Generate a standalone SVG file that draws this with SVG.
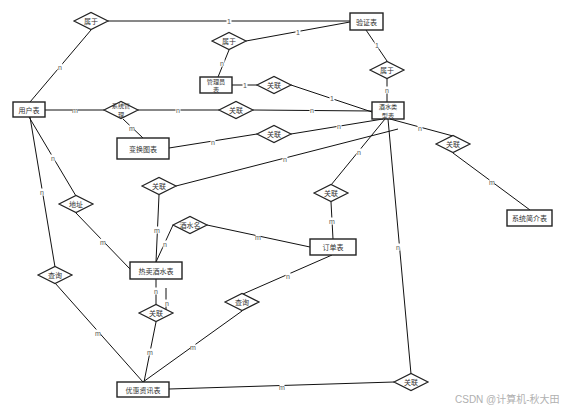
<svg xmlns="http://www.w3.org/2000/svg" width="567" height="411" viewBox="0 0 567 411">
<style>
.ent{fill:#fff;stroke:#222;stroke-width:1.4}
.rel{fill:#fff;stroke:#222;stroke-width:1.2}
.t{font-family:"Noto Sans CJK SC","Noto Sans",sans-serif;font-size:7px;fill:#333;text-anchor:middle;dominant-baseline:central}
.t2{font-size:6.2px}
.ln{stroke:#111;stroke-width:1;fill:none}
.bg{fill:#fff}
.lb{font-family:"Liberation Sans","Noto Sans",sans-serif;font-size:7px;fill:#555;text-anchor:middle;dominant-baseline:central}
.wm{font-family:"Liberation Sans","Noto Sans CJK SC",sans-serif;font-size:10px;fill:#b0b0b0}
</style>
<defs><rect id="b" class="bg" x="-2.5" y="-3.5" width="5" height="7"/></defs>
<rect width="567" height="411" fill="#fff"/>
<g id="connectors">
<line class="ln" x1="30" y1="102" x2="91" y2="30"/>
<line class="ln" x1="108" y1="21" x2="350" y2="21"/>
<line class="ln" x1="350" y1="22" x2="246" y2="41"/>
<line class="ln" x1="229" y1="50" x2="218" y2="77"/>
<line class="ln" x1="366" y1="30" x2="387" y2="61"/>
<line class="ln" x1="387" y1="79" x2="387" y2="102"/>
<line class="ln" x1="232" y1="85" x2="257" y2="85"/>
<line class="ln" x1="291" y1="85" x2="372" y2="112"/>
<line class="ln" x1="45" y1="110" x2="104" y2="110"/>
<line class="ln" x1="138" y1="110" x2="219" y2="110"/>
<line class="ln" x1="253" y1="110" x2="372" y2="111"/>
<line class="ln" x1="123" y1="119" x2="143" y2="138"/>
<line class="ln" x1="169" y1="148" x2="257" y2="134"/>
<line class="ln" x1="291" y1="134" x2="383" y2="119"/>
<line class="ln" x1="176" y1="186" x2="398" y2="129"/>
<line class="ln" x1="385" y1="119" x2="331" y2="185"/>
<line class="ln" x1="388" y1="119" x2="411" y2="374"/>
<line class="ln" x1="390" y1="119" x2="453" y2="136"/>
<line class="ln" x1="453" y1="153" x2="530" y2="210"/>
<line class="ln" x1="331" y1="202" x2="333" y2="239"/>
<line class="ln" x1="207" y1="225" x2="310" y2="247"/>
<line class="ln" x1="332" y1="255" x2="243" y2="294"/>
<line class="ln" x1="242" y1="311" x2="143" y2="382"/>
<line class="ln" x1="156" y1="322" x2="144" y2="382"/>
<line class="ln" x1="156" y1="279" x2="156" y2="305"/>
<line class="ln" x1="166" y1="288" x2="166" y2="312"/>
<line class="ln" x1="159" y1="195" x2="156" y2="262"/>
<line class="ln" x1="173" y1="225" x2="156" y2="262"/>
<line class="ln" x1="29" y1="117" x2="76" y2="196"/>
<line class="ln" x1="76" y1="213" x2="130" y2="269"/>
<line class="ln" x1="30" y1="117" x2="55" y2="267"/>
<line class="ln" x1="55" y1="283" x2="143" y2="382"/>
<line class="ln" x1="169" y1="389" x2="394" y2="382"/>
<use href="#b" x="60" y="67"/><use href="#b" x="229" y="21"/><use href="#b" x="298" y="32"/><use href="#b" x="222" y="63"/>
<use href="#b" x="377" y="45"/><use href="#b" x="387" y="90"/><use href="#b" x="245" y="85"/><use href="#b" x="332" y="98"/>
<use href="#b" x="75" y="110"/><use href="#b" x="178" y="110"/><use href="#b" x="312" y="110"/><use href="#b" x="132" y="128"/>
<use href="#b" x="213" y="142"/><use href="#b" x="339" y="126"/><use href="#b" x="285" y="159"/><use href="#b" x="359" y="152"/>
<use href="#b" x="398" y="247"/><use href="#b" x="420" y="128"/><use href="#b" x="492" y="182"/><use href="#b" x="332" y="221"/>
<use href="#b" x="258" y="237"/><use href="#b" x="288" y="276"/><use href="#b" x="193" y="347"/><use href="#b" x="150" y="352"/>
<use href="#b" x="156" y="291"/><use href="#b" x="167" y="303"/><use href="#b" x="157" y="230"/><use href="#b" x="165" y="244"/>
<use href="#b" x="53" y="158"/><use href="#b" x="103" y="242"/><use href="#b" x="42" y="192"/><use href="#b" x="98" y="333"/>
<use href="#b" x="282" y="387"/>
<text class="lb" x="60" y="67">n</text>
<text class="lb" x="229" y="21">1</text>
<text class="lb" x="298" y="32">1</text>
<text class="lb" x="222" y="63">n</text>
<text class="lb" x="377" y="45">1</text>
<text class="lb" x="387" y="90">n</text>
<text class="lb" x="245" y="85">1</text>
<text class="lb" x="332" y="98">1</text>
<text class="lb" x="75" y="110">m</text>
<text class="lb" x="178" y="110">n</text>
<text class="lb" x="312" y="110">n</text>
<text class="lb" x="132" y="128">m</text>
<text class="lb" x="213" y="142">n</text>
<text class="lb" x="339" y="126">n</text>
<text class="lb" x="285" y="159">n</text>
<text class="lb" x="359" y="152">n</text>
<text class="lb" x="398" y="247">n</text>
<text class="lb" x="420" y="128">n</text>
<text class="lb" x="492" y="182">m</text>
<text class="lb" x="332" y="221">m</text>
<text class="lb" x="258" y="237">m</text>
<text class="lb" x="288" y="276">n</text>
<text class="lb" x="193" y="347">m</text>
<text class="lb" x="150" y="352">m</text>
<text class="lb" x="156" y="291">n</text>
<text class="lb" x="167" y="303">n</text>
<text class="lb" x="157" y="230">m</text>
<text class="lb" x="165" y="244">n</text>
<text class="lb" x="53" y="158">n</text>
<text class="lb" x="103" y="242">m</text>
<text class="lb" x="42" y="192">n</text>
<text class="lb" x="98" y="333">m</text>
<text class="lb" x="282" y="387">m</text>
</g>
<g id="e_verify"><rect class="ent" x="350" y="13" width="33" height="17"/><text class="t" x="366.5" y="21.5">验证表</text></g>
<g id="e_admin"><rect class="ent" x="200" y="77" width="32" height="16"/><text class="t t2" x="216" y="81">管理员</text><text class="t t2" x="216" y="89.5">表</text></g>
<g id="e_drinktype"><rect class="ent" x="372" y="102" width="32" height="17"/><text class="t t2" x="388" y="106.5">酒水类</text><text class="t t2" x="388" y="115">型表</text></g>
<g id="e_user"><rect class="ent" x="13" y="102" width="32" height="15"/><text class="t" x="29" y="109.5">用户表</text></g>
<g id="e_chart"><rect class="ent" x="117" y="138" width="52" height="21"/><text class="t" x="143" y="148.5">变换图表</text></g>
<g id="e_intro"><rect class="ent" x="507" y="210" width="45" height="16"/><text class="t" x="529.5" y="218">系统简介表</text></g>
<g id="e_order"><rect class="ent" x="310" y="239" width="46" height="16"/><text class="t" x="333" y="247">订单表</text></g>
<g id="e_hot"><rect class="ent" x="130" y="262" width="52" height="17"/><text class="t" x="156" y="270.5">热卖酒水表</text></g>
<g id="e_promo"><rect class="ent" x="117" y="382" width="52" height="15"/><text class="t" x="143" y="389.5">优惠资讯表</text></g>
<g id="r_belong1"><polygon class="rel" points="74,21 91,12.5 108,21 91,29.5"/><text class="t" x="91" y="21">属于</text></g>
<g id="r_belong2"><polygon class="rel" points="212,41 229,32.5 246,41 229,49.5"/><text class="t" x="229" y="41">属于</text></g>
<g id="r_belong3"><polygon class="rel" points="370,70 387,61.5 404,70 387,78.5"/><text class="t" x="387" y="70">属于</text></g>
<g id="r_rel_admin"><polygon class="rel" points="257,85 274,76.5 291,85 274,93.5"/><text class="t" x="274" y="85">关联</text></g>
<g id="r_sysmgr"><polygon class="rel" points="104,110 121,101.5 138,110 121,118.5"/><text class="t t2" x="121" y="105.5">系统管</text><text class="t t2" x="121" y="114">理</text></g>
<g id="r_rel_user"><polygon class="rel" points="219,110 236,101.5 253,110 236,118.5"/><text class="t" x="236" y="110">关联</text></g>
<g id="r_rel_chart"><polygon class="rel" points="257,134 274,125.5 291,134 274,142.5"/><text class="t" x="274" y="134">关联</text></g>
<g id="r_rel_intro"><polygon class="rel" points="436,144 453,135.5 470,144 453,152.5"/><text class="t" x="453" y="144">关联</text></g>
<g id="r_rel_order"><polygon class="rel" points="314,193 331,184.5 348,193 331,201.5"/><text class="t" x="331" y="193">关联</text></g>
<g id="r_rel_hot"><polygon class="rel" points="142,186 159,177.5 176,186 159,194.5"/><text class="t" x="159" y="186">关联</text></g>
<g id="r_addr"><polygon class="rel" points="59,204 76,195.5 93,204 76,212.5"/><text class="t" x="76" y="204">地址</text></g>
<g id="r_drinkname"><polygon class="rel" points="173,225 190,216.5 207,225 190,233.5"/><text class="t" x="190" y="225">酒水名</text></g>
<g id="r_query1"><polygon class="rel" points="38,275 55,266.5 72,275 55,283.5"/><text class="t" x="55" y="275">查询</text></g>
<g id="r_query2"><polygon class="rel" points="225,302 242,293.5 259,302 242,310.5"/><text class="t" x="242" y="302">查询</text></g>
<g id="r_rel_promo"><polygon class="rel" points="139,313 156,304.5 173,313 156,321.5"/><text class="t" x="156" y="313">关联</text></g>
<g id="r_rel_br"><polygon class="rel" points="394,382 411,373.5 428,382 411,390.5"/><text class="t" x="411" y="382">关联</text></g>
<text class="wm" x="455" y="403">CSDN @计算机-秋大田</text>
</svg>
